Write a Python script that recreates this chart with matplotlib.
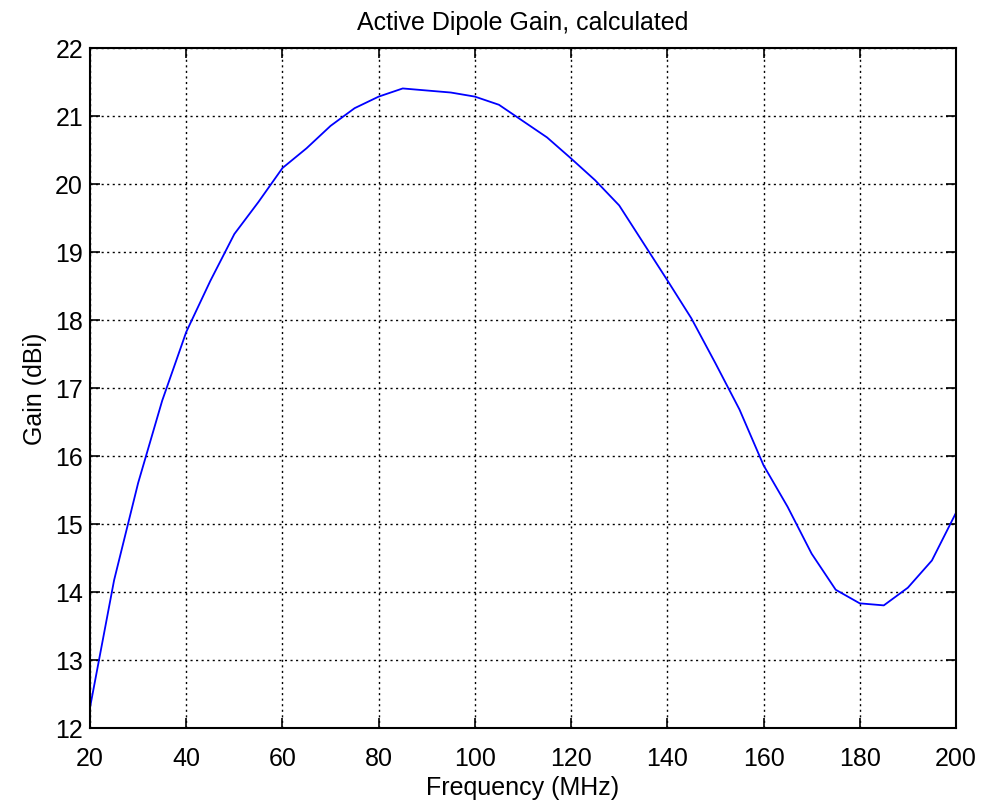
import matplotlib
matplotlib.use("Agg")
import matplotlib.pyplot as plt

freq_mhz = [20, 25, 30, 35, 40, 45, 50, 55, 60, 65, 70, 75, 80, 85, 90, 95,
            100, 105, 110, 115, 120, 125, 130, 135, 140, 145, 150, 155, 160,
            165, 170, 175, 180, 185, 190, 195, 200]
gain_dbi = [12.31, 14.18, 15.61, 16.82, 17.83, 18.58, 19.27, 19.74, 20.24,
            20.53, 20.86, 21.12, 21.29, 21.41, 21.38, 21.35, 21.29, 21.17,
            20.93, 20.69, 20.38, 20.06, 19.69, 19.14, 18.59, 18.03, 17.37,
            16.69, 15.87, 15.26, 14.57, 14.04, 13.84, 13.81, 14.07, 14.47,
            15.17]
x_ticks = [20, 40, 60, 80, 100, 120, 140, 160, 180, 200]
y_ticks = [12, 13, 14, 15, 16, 17, 18, 19, 20, 21, 22]

plt.rcParams['font.family'] = ['Liberation Sans', 'DejaVu Sans']

fig = plt.figure(figsize=(9.84, 8.08), dpi=100)
ax = fig.add_axes([0.0915, 0.0984, 0.88, 0.8418])
ax.plot(freq_mhz, gain_dbi, color='#0000ff', linewidth=1.3)
ax.set_xlim(20, 200)
ax.set_ylim(12, 22)
ax.set_xticks(x_ticks)
ax.set_yticks(y_ticks)
ax.grid(True, color='black', linestyle=(0, (1.5, 2.5)), linewidth=1.0)
ax.tick_params(direction='in', top=True, right=True, length=7, width=1.2,
               labelsize=18)
ax.tick_params(axis='x', pad=13)
ax.tick_params(axis='y', pad=5)
for s in ax.spines.values():
    s.set_linewidth(1.5)
ax.set_title('Active Dipole Gain, calculated', fontsize=18, pad=13)
ax.set_xlabel('Frequency (MHz)', fontsize=18, labelpad=4)
ax.set_ylabel('Gain (dBi)', fontsize=18, labelpad=6)
fig.savefig('out.png', dpi=100, facecolor='white')
